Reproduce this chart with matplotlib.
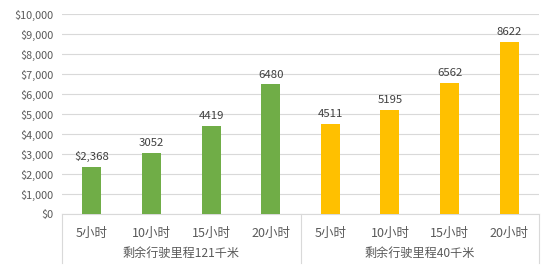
import matplotlib
matplotlib.use("Agg")
import matplotlib.pyplot as plt
from matplotlib.ticker import FuncFormatter

plt.rcParams['font.family'] = ['Noto Sans CJK SC', 'DejaVu Sans']

categories = ["5小时", "10小时", "15小时", "20小时", "5小时", "10小时", "15小时", "20小时"]
groups = ["剩余行驶里程121千米", "剩余行驶里程40千米"]
values_121 = [2368, 3052, 4419, 6480]
values_40 = [4511, 5195, 6562, 8622]
labels_121 = ["$2,368", "3052", "4419", "6480"]
labels_40 = ["4511", "5195", "6562", "8622"]

green = "#70AD47"
yellow = "#FFC000"
text_c = "#595959"
grid_c = "#D9D9D9"

fig = plt.figure(figsize=(5.54, 2.70), dpi=100)
ax = fig.add_axes([62/554, 1-214/270, (539-62)/554, 200/270])

x121 = list(range(4))
x40 = list(range(4, 8))
w = 0.32
b1 = ax.bar(x121, values_121, width=w, color=green, zorder=3)
b2 = ax.bar(x40, values_40, width=w, color=yellow, zorder=3)
for bars, labs in ((b1, labels_121), (b2, labels_40)):
    for r, l in zip(bars, labs):
        ax.annotate(l, (r.get_x()+r.get_width()/2, r.get_height()), xytext=(0, 3.5),
                    textcoords="offset points", ha="center", va="bottom",
                    fontsize=8.2, color="#404040")

ax.set_xlim(-0.5, 7.5)
ax.set_ylim(0, 10000)
ax.set_yticks(range(0, 10001, 1000))
ax.yaxis.set_major_formatter(FuncFormatter(lambda v, p: "${:,.0f}".format(v)))
ax.grid(axis='y', color=grid_c, linewidth=0.8, zorder=0)
ax.tick_params(axis='y', length=0, labelsize=7.8, labelcolor=text_c, pad=6)
ax.set_xticks([])
for s in ["top", "right", "left"]:
    ax.spines[s].set_visible(False)
ax.spines["bottom"].set_color(grid_c)

trans = ax.get_xaxis_transform()
for i, c in enumerate(categories):
    ax.text(i, -0.095, c, transform=trans, ha="center", va="center",
            fontsize=9, color=text_c)
for gi, g in enumerate(groups):
    ax.text(1.5 + 4*gi, -0.195, g, transform=trans, ha="center", va="center",
            fontsize=8.7, color=text_c)
for xv in (-0.5, 3.5, 7.5):
    ax.plot([xv, xv], [0, -0.245], transform=trans, color=grid_c,
            linewidth=0.8, clip_on=False)

fig.savefig("out.png", dpi=100, facecolor="white")
